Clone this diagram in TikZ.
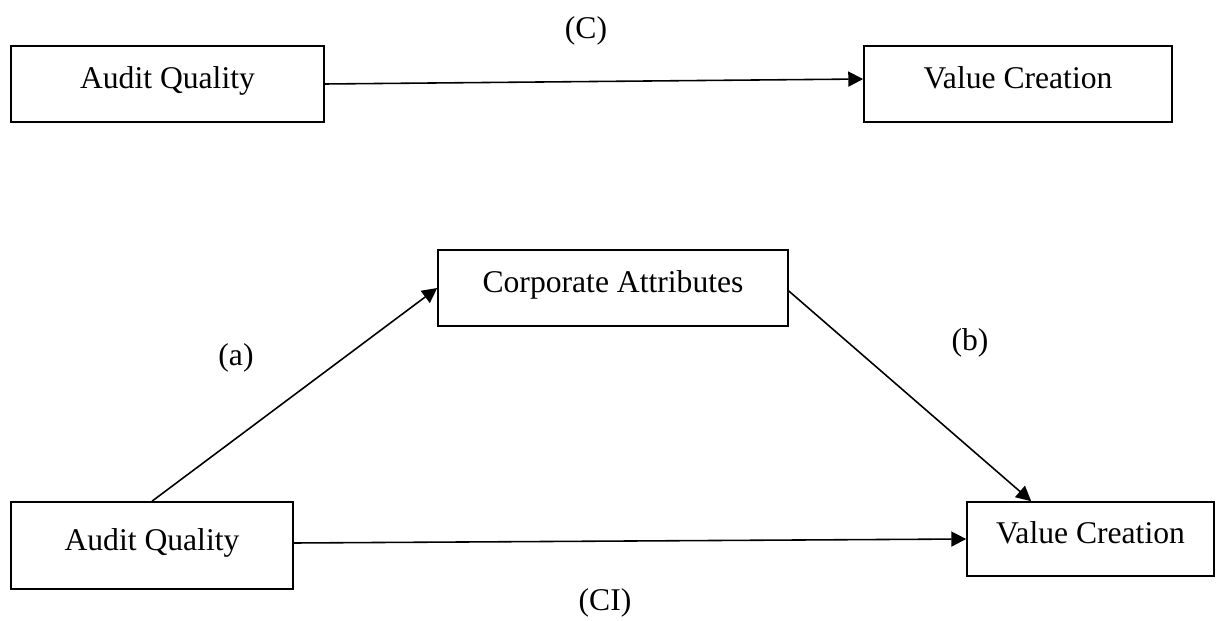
\documentclass[tikz,border=0pt]{standalone}
\usepackage{fontspec}
\setmainfont{Liberation Serif}
\usetikzlibrary{arrows.meta}

\begin{document}
\begin{tikzpicture}[x=0.02cm, y=-0.02cm,
    varbox/.style={draw, line width=0.9pt, font=\fontsize{18}{20}\selectfont,
        text height=13pt, text depth=7.5pt, inner sep=0pt},
    path/.style={line width=0.9pt, -{Triangle[length=8.5pt,width=8.5pt]}},
    coef/.style={font=\fontsize{18}{20}\selectfont}]
    \useasboundingbox (0,0) rectangle (1216,621);

    % Total effect
    \node[varbox, minimum width=313*0.02cm, minimum height=76*0.02cm] (aqtop) at (167.5,84) {Audit Quality};
    \node[varbox, minimum width=308*0.02cm, minimum height=76*0.02cm] (vctop) at (1018,84) {Value Creation};
    \draw[path] (aqtop.east) -- ([yshift=0.1cm]vctop.west);
    \node[coef] (c) at (586,31) {(C)};

    % Mediated model
    \node[varbox, minimum width=350*0.02cm, minimum height=76*0.02cm] (ca) at (613,288) {Corporate Attributes};
    \node[varbox, minimum width=282*0.02cm, minimum height=87*0.02cm] (aqbot) at (152,545.5) {Audit Quality};
    \node[varbox, minimum width=247*0.02cm, minimum height=74*0.02cm] (vcbot) at (1090.5,539) {Value Creation};
    \draw[path] (aqbot.north) -- (ca.west);
    \draw[path] ([yshift=-0.06cm]ca.east) -- ([xshift=1.3cm]vcbot.north west);
    \draw[path] ([yshift=0.05cm]aqbot.east) -- (vcbot.west);

    % Labels
    \node[coef] (a) at (236,358) {(a)};
    \node[coef] (b) at (970,343) {(b)};
    \node[coef] (ci) at (605,603) {(CI)};
\end{tikzpicture}
\end{document}
